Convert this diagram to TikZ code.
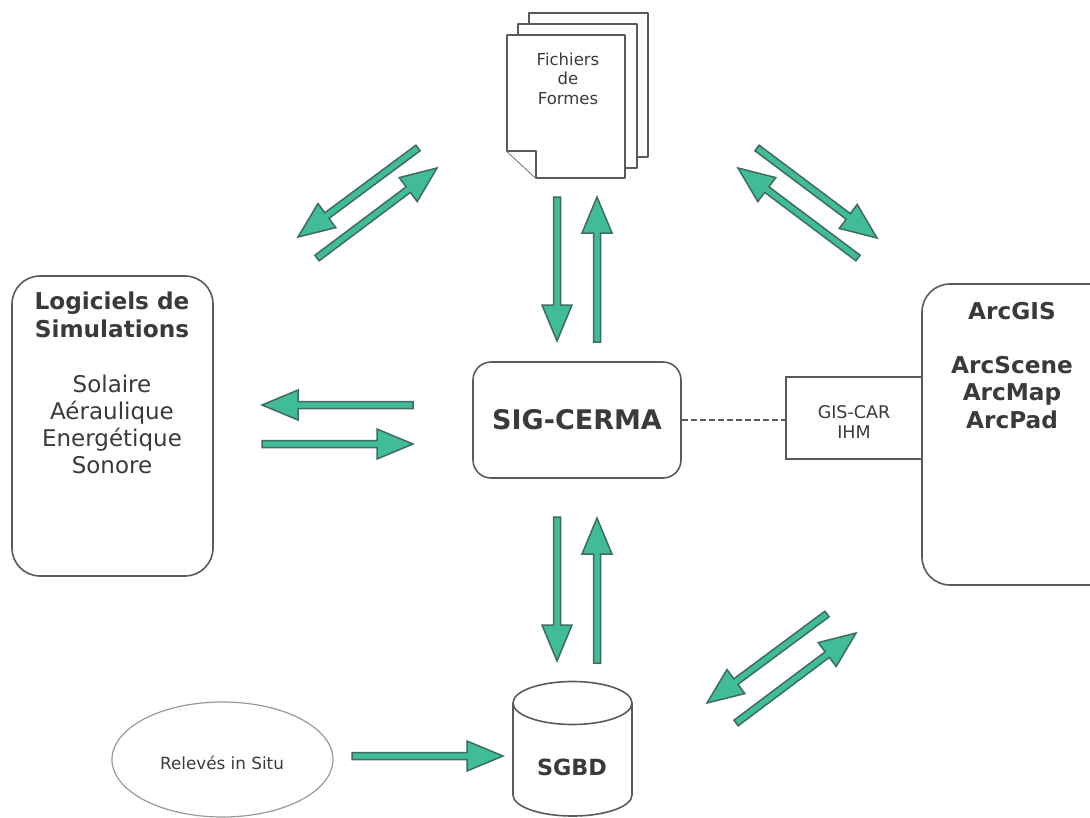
\documentclass[tikz,border=0pt]{standalone}
\usepackage{fontspec}
\setmainfont{DejaVu Sans}
\usetikzlibrary{calc,shapes.geometric}
\definecolor{arrowfill}{HTML}{40BC98}
\definecolor{arrowline}{HTML}{3F6B60}
\definecolor{ink}{HTML}{3A3A3A}
\definecolor{edge}{HTML}{5A5A5A}
\tikzset{
  blockarrow/.style={draw=arrowline,fill=arrowfill,line width=1.5pt,line join=miter},
  box/.style={draw=edge,line width=1.6pt,fill=white},
  pagesheet/.style={draw=edge,line width=1.6pt,fill=white,line join=round},
  txt/.style={text=ink,align=center,inner sep=0pt},
  big/.style={txt,font=\fontsize{23}{27}\selectfont},
  bigb/.style={txt,font=\bfseries\fontsize{23.2}{27.5}\selectfont},
  small/.style={txt,font=\fontsize{16.5}{19.5}\selectfont}
}
\newcommand{\barrow}[2]{%
  \coordinate (H) at ($(#2)!36pt!(#1)$);
  \draw[blockarrow]
    ($(#1)!3.5pt!90:(#2)$) -- ($(H)!3.5pt!-90:(#1)$) -- ($(H)!15pt!-90:(#1)$) -- (#2)
    -- ($(H)!15pt!90:(#1)$) -- ($(H)!3.5pt!90:(#1)$) -- ($(#1)!3.5pt!-90:(#2)$) -- cycle;
}
\begin{document}
\begin{tikzpicture}[x=1pt,y=-1pt]
\useasboundingbox (0,0) rectangle (1090,817);
% pages
\draw[pagesheet] (529,13) rectangle (648,157);
\draw[pagesheet] (518,24) rectangle (637,168);
\fill[white] (507,35) rectangle (625,178);
\draw[pagesheet] (507,35) -- (625,35) -- (625,178) -- (536,178) -- (507,151) -- cycle;
\draw[pagesheet] (507,151) -- (536,151) -- (536,178);
\node[small] (files) at (568,78.5) {Fichiers\\de\\Formes};
% boxes
\node[box,rounded corners=28pt,minimum width=201pt,minimum height=300pt,inner sep=0pt] (sim) at (112.5,426) {};
\node[bigb,anchor=north] (simt) at (112,292) {Logiciels de\\Simulations};
\node[big,anchor=north] (simb) at (112,375) {Solaire\\Aéraulique\\Energétique\\Sonore};
\node[box,rounded corners=18pt,minimum width=208pt,minimum height=116pt,inner sep=0pt] (sig) at (577,420) {};
\node[txt,font=\bfseries\fontsize{27}{30}\selectfont] (sigt) at (577,420) {SIG-CERMA};
\draw[box] (1091,284) -- (950,284) to[out=180,in=90] (922,312) -- (922,557) to[out=-90,in=180] (950,585) -- (1091,585);
\node[bigb,anchor=north] (arc) at (1012,302) {ArcGIS\\[26.5pt]ArcScene\\ArcMap\\ArcPad};
\node[box,minimum width=136pt,minimum height=82pt,inner sep=0pt] (ihm) at (854,418) {};
\node[txt,font=\fontsize{17.5}{20}\selectfont] (ihmt) at (854,422) {GIS-CAR\\IHM};
\draw[dashed,dash pattern=on 6pt off 3pt,draw=edge,line width=1.4pt] (sig.east) -- (sig.east -| ihm.west);
% ellipse
\node[ellipse,draw=black!40,line width=1.2pt,minimum width=221pt,minimum height=115pt,inner sep=0pt] (rel) at (222.5,759.5) {};
\node[txt,font=\fontsize{16.8}{20}\selectfont] (relt) at (222,763) {Relevés in Situ};
% cylinder
\coordinate (cyl) at (572.5,703);
\draw[box] (513,703) -- (513,795) arc[start angle=180,end angle=360,x radius=59.5pt,y radius=21pt] -- (632,703);
\draw[box] (cyl) ellipse [x radius=59.5pt,y radius=21.5pt];
\node[txt,font=\bfseries\fontsize{22.3}{24}\selectfont] (db) at (572,767) {SGBD};
% arrows
\coordinate (a1) at (418,148); \coordinate (b1) at (298,237);
\coordinate (a2) at (317,258); \coordinate (b2) at (437,168);
\coordinate (a3) at (557,197); \coordinate (b3) at (557,341);
\coordinate (a4) at (597,342); \coordinate (b4) at (597,197);
\coordinate (a5) at (757,148); \coordinate (b5) at (877,238);
\coordinate (a6) at (858,258); \coordinate (b6) at (738,168);
\coordinate (a7) at (413,405); \coordinate (b7) at (262,405);
\coordinate (a8) at (262,444); \coordinate (b8) at (413,444);
\coordinate (a9) at (557,517); \coordinate (b9) at (557,661);
\coordinate (a10) at (597,663); \coordinate (b10) at (597,518);
\coordinate (a11) at (827,614); \coordinate (b11) at (707,703);
\coordinate (a12) at (736,723); \coordinate (b12) at (856,633);
\coordinate (a13) at (352,756); \coordinate (b13) at (503,756);
\barrow{a1}{b1}\barrow{a2}{b2}\barrow{a3}{b3}\barrow{a4}{b4}
\barrow{a5}{b5}\barrow{a6}{b6}\barrow{a7}{b7}\barrow{a8}{b8}
\barrow{a9}{b9}\barrow{a10}{b10}\barrow{a11}{b11}\barrow{a12}{b12}\barrow{a13}{b13}
\end{tikzpicture}
\end{document}
